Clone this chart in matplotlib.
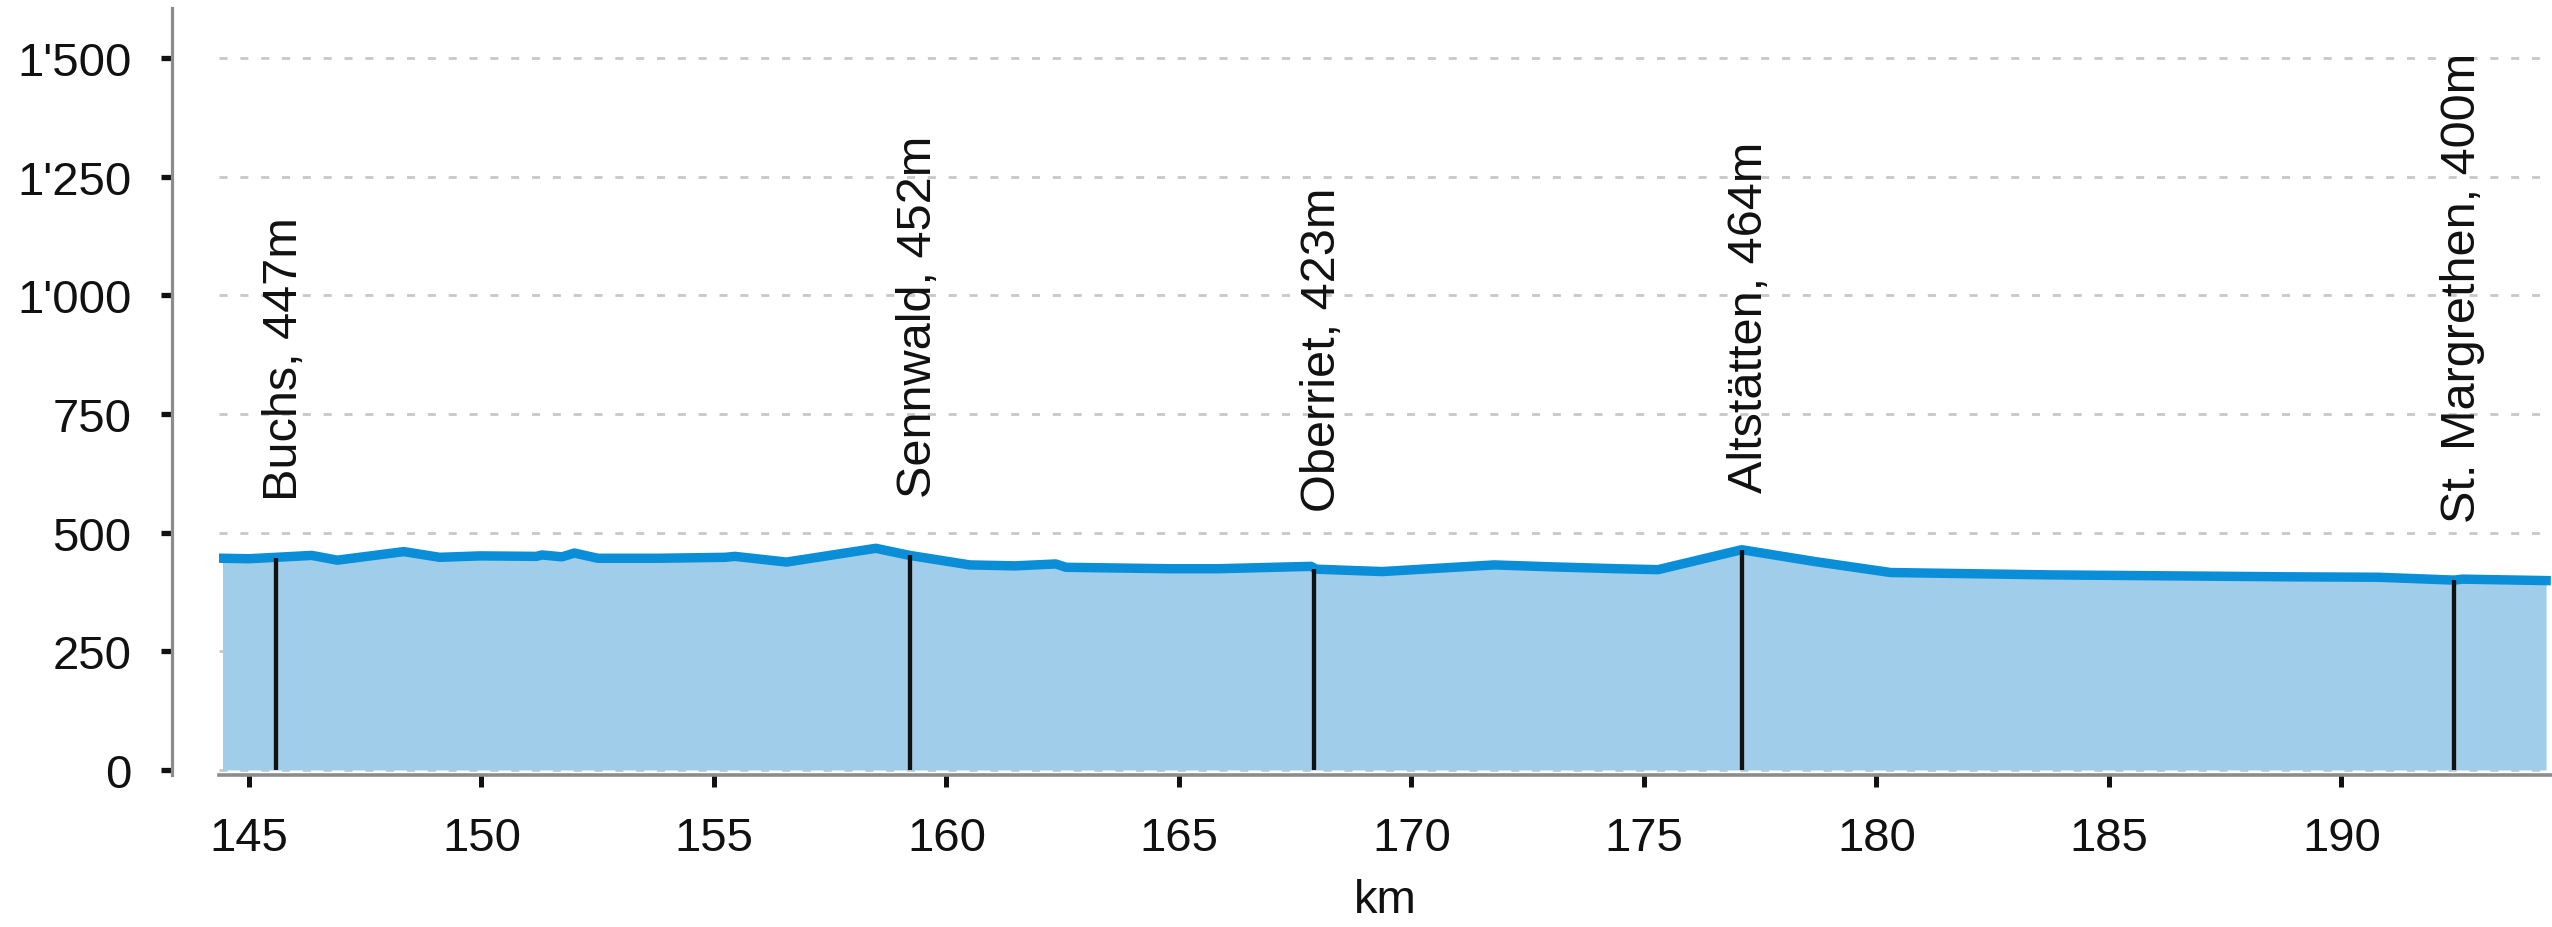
import numpy as np
import matplotlib.pyplot as plt
from matplotlib.ticker import FuncFormatter

plt.rcParams['font.family'] = ['Liberation Sans', 'DejaVu Sans']

# elevation profile (km along route, metres above sea level)
km = [144.43, 145.0, 145.58, 146.35, 146.9, 148.33, 149.1, 149.97, 151.18, 151.3,
      151.73, 152.0, 152.5, 153.8, 155.24, 155.45, 156.56, 158.48, 159.21, 160.5,
      161.47, 162.35, 162.57, 164.77, 165.86, 167.84, 167.95, 169.37, 171.78, 172.99,
      174.42, 175.3, 177.1, 178.68, 180.3, 183.73, 188.78, 190.8, 192.42, 192.6, 194.4]
elev = [446, 445, 448, 452, 442, 460, 448, 451, 450, 453,
        449, 457, 446, 446, 448, 450, 438, 467, 452, 432,
        430, 434, 427, 424, 424, 429, 423, 418, 432, 428,
        424, 422, 464, 439, 416, 411, 407, 406, 400, 402, 399]

# named places along the route
places = ['Buchs', 'Sennwald', 'Oberriet', 'Altstätten', 'St. Margrethen']
place_km = [145.58, 159.21, 167.9, 177.1, 192.42]
place_elev = [447, 452, 423, 464, 400]

x_ticks = [145, 150, 155, 160, 165, 170, 175, 180, 185, 190]
y_ticks = [0, 250, 500, 750, 1000, 1250, 1500]

W, H = 2552, 928
fig = plt.figure(figsize=(W / 100, H / 100), dpi=100)
ax = fig.add_axes([219 / W, (H - 776) / H, (W - 219) / W, (776 - 9) / H])

ax.fill_between(km, elev, 0, color='#a0cdea', lw=0, zorder=1)
ax.plot(km, elev, color='#0a8ed8', lw=6.8, solid_joinstyle='round', zorder=3)
ax.vlines(place_km, 0, place_elev, colors='#111111', lw=3.1, zorder=4)

for name, x, e in zip(places, place_km, place_elev):
    ax.annotate(f'{name}, {e}m', xy=(x, e + 122), xytext=(6, 0),
                textcoords='offset points', rotation=90,
                ha='center', va='bottom', fontsize=35, color='#111111')

ax.set_xlim(144.355, 194.527)
ax.set_ylim(-10.5, 1605)
ax.set_xticks(x_ticks)
ax.set_yticks(y_ticks)
ax.yaxis.set_major_formatter(FuncFormatter(lambda v, p: f'{int(v):,}'.replace(',', "'")))

ax.grid(axis='y', color='#c8c8c8', lw=2, ls=(0, (2.9, 4.6)), zorder=0)
ax.set_axisbelow(True)

for s in ['top', 'right']:
    ax.spines[s].set_visible(False)
ax.spines['left'].set_position(('axes', -47 / (W - 219)))
ax.spines['left'].set_color('#8c8c8c')
ax.spines['left'].set_linewidth(2.3)
ax.spines['bottom'].set_color('#8c8c8c')
ax.spines['bottom'].set_linewidth(2.6)

ax.tick_params(axis='x', direction='out', length=8.5, width=3.6, color='#111111',
               labelsize=34, pad=21, labelcolor='#111111')
ax.tick_params(axis='y', direction='out', length=7.6, width=3.8, color='#111111',
               labelsize=34, pad=21.5, labelcolor='#111111')

ax.set_xlabel('km', fontsize=34, labelpad=13, color='#111111')

fig.savefig('out.png', dpi=100)
